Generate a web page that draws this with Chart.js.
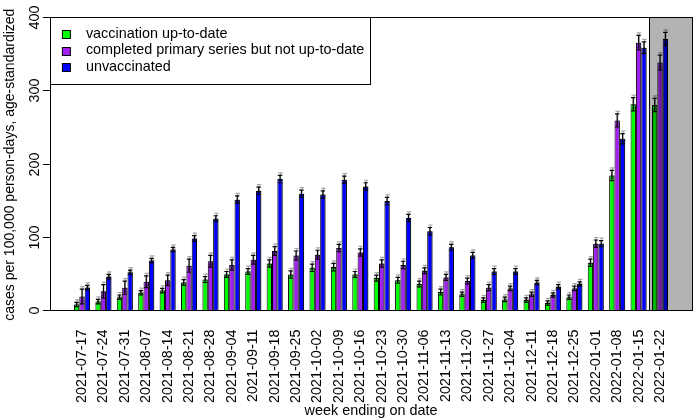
<!DOCTYPE html>
<html>
<head>
<meta charset="utf-8">
<script src="https://cdn.jsdelivr.net/npm/chart.js@4/dist/chart.umd.min.js"></script>
<style>
  body { margin: 0; background: #fff; }
</style>
</head>
<body>
<canvas id="myChart" width="700" height="420"></canvas>
<script>
// weeks (ending on date)
let weeks = [
    '2021-07-17', '2021-07-24', '2021-07-31', '2021-08-07', '2021-08-14',
    '2021-08-21', '2021-08-28', '2021-09-04', '2021-09-11', '2021-09-18',
    '2021-09-25', '2021-10-02', '2021-10-09', '2021-10-16', '2021-10-23',
    '2021-10-30', '2021-11-06', '2021-11-13', '2021-11-20', '2021-11-27',
    '2021-12-04', '2021-12-11', '2021-12-18', '2021-12-25', '2022-01-01',
    '2022-01-08', '2022-01-15', '2022-01-22'
];

// cases per 100,000 person-days
let upToDate = [8, 12, 18, 24, 27, 38, 42, 49, 53, 64, 49, 58, 59, 49, 44,
    41, 36, 25, 22, 14, 15, 14, 10, 18, 65, 184, 281, 280];
let primaryOnly = [19, 26, 31, 39, 41, 61, 67, 62, 69, 81, 75, 76, 85, 79, 64,
    62, 54, 45, 40, 31, 30, 22, 21, 30, 91, 259, 365, 338];
let unvaccinated = [31, 46, 52, 68, 83, 98, 125, 151, 163, 179, 159, 158, 178, 169, 149,
    126, 108, 86, 75, 53, 53, 38, 32, 36, 91, 234, 358, 370];

// error bar half-widths
let upToDateErr = [3, 3, 3, 3, 3, 4, 4, 4, 4, 5, 5, 5, 5, 4, 4,
    4, 4, 4, 3, 3, 3, 3, 3, 3, 5, 7, 9, 9];
let primaryOnlyErr = [10, 9, 9, 8, 7, 9, 8, 7, 6, 6, 6, 6, 5, 5, 5,
    5, 4, 4, 4, 4, 3, 3, 3, 3, 5, 9, 10, 10];
let unvaccinatedErr = [3, 3, 3, 3, 3, 4, 4, 5, 5, 5, 5, 5, 5, 5, 5,
    5, 5, 4, 4, 4, 4, 3, 3, 3, 4, 7, 8, 9];

let yTicks = [0, 100, 200, 300, 400];
let shadedWeek = '2022-01-22';

let fontFamily = '"Liberation Sans", Arial, sans-serif';
let fontSize = 14.4;

let errors = [upToDateErr, primaryOnlyErr, unvaccinatedErr];

let extras = {
    id: 'extras',
    beforeDatasetsDraw(chart) {
        let ctx = chart.ctx;
        ctx.save();
        // soft drop shadow behind the bars
        ctx.shadowColor = 'rgba(0,0,0,0.35)';
        ctx.shadowBlur = 1;
        ctx.shadowOffsetX = 1.5;
        ctx.shadowOffsetY = -1;
    },
    afterDatasetsDraw(chart) {
        let ctx = chart.ctx;
        ctx.restore();
        let x = chart.scales.x;
        let y = chart.scales.y;
        let area = chart.chartArea;
        let catW = x.getPixelForValue(1) - x.getPixelForValue(0);
        let left = area.left - catW;
        let right = area.right + catW;

        // error bars
        ctx.save();
        ctx.lineWidth = 1.2;
        chart.data.datasets.forEach((ds, i) => {
            let meta = chart.getDatasetMeta(i);
            meta.data.forEach((bar, j) => {
                let v = ds.data[j];
                let e = errors[i][j];
                let top = y.getPixelForValue(v + e);
                let bot = y.getPixelForValue(v - e);
                let cx = bar.x;
                let hw = 2.2;
                [['rgba(0,0,0,0.35)', 0.5, -2.5], ['#000', 0, 0]].forEach(([col, dx, dy]) => {
                    ctx.strokeStyle = col;
                    ctx.beginPath();
                    ctx.moveTo(cx + dx, top + dy);
                    ctx.lineTo(cx + dx, bot + dy);
                    ctx.moveTo(cx + dx - hw, top + dy);
                    ctx.lineTo(cx + dx + hw, top + dy);
                    ctx.moveTo(cx + dx - hw, bot + dy);
                    ctx.lineTo(cx + dx + hw, bot + dy);
                    ctx.stroke();
                });
            });
        });
        ctx.restore();

        // shaded (incomplete) week
        let k = weeks.indexOf(shadedWeek);
        let sx = (x.getPixelForValue(k - 1) + x.getPixelForValue(k)) / 2;
        ctx.save();
        ctx.globalCompositeOperation = 'multiply';
        ctx.fillStyle = '#b3b3b3';
        ctx.fillRect(sx, area.top, right - sx, area.bottom - area.top);
        ctx.restore();
        ctx.save();
        ctx.strokeStyle = '#000';
        ctx.lineWidth = 1;
        ctx.beginPath();
        ctx.moveTo(Math.round(sx) + 0.5, area.top);
        ctx.lineTo(Math.round(sx) + 0.5, area.bottom);
        ctx.stroke();

        // plot frame
        ctx.strokeRect(Math.round(left) + 0.5, Math.round(area.top) + 0.5,
            Math.round(right - left), Math.round(area.bottom - area.top));

        // y axis ticks and rotated labels
        ctx.fillStyle = '#000';
        ctx.font = fontSize + 'px ' + fontFamily;
        ctx.textAlign = 'center';
        ctx.textBaseline = 'middle';
        yTicks.forEach(t => {
            let py = Math.round(y.getPixelForValue(t)) + 0.5;
            ctx.beginPath();
            ctx.moveTo(left - 7, py);
            ctx.lineTo(left, py);
            ctx.stroke();
            ctx.save();
            ctx.translate(left - 15, py);
            ctx.rotate(-Math.PI / 2);
            ctx.fillText(String(t), 0, 0);
            ctx.restore();
        });
        ctx.save();
        ctx.font = '14px ' + fontFamily;
        ctx.translate(left - 40, (area.top + area.bottom) / 2 + 1);
        ctx.rotate(-Math.PI / 2);
        ctx.fillText('cases per 100,000 person-days, age-standardized', 0, 0);
        ctx.restore();

        // x axis title
        ctx.fillText('week ending on date', (left + right) / 2, area.bottom + 101);

        // legend
        let items = chart.data.datasets;
        let textX = left + 36;
        let maxW = Math.max(...items.map(ds => ctx.measureText(ds.label).width));
        let boxR = textX + maxW + 6;
        let boxB = area.top + 67;
        ctx.fillStyle = '#fff';
        ctx.fillRect(left + 0.5, area.top + 0.5, boxR - left, boxB - area.top);
        ctx.strokeRect(Math.round(left) + 0.5, Math.round(area.top) + 0.5,
            Math.round(boxR - left), Math.round(boxB - area.top));
        ctx.textAlign = 'left';
        items.forEach((ds, i) => {
            let cy = area.top + 17 + i * 16.5;
            ctx.fillStyle = ds.backgroundColor;
            ctx.fillRect(left + 12.5, Math.round(cy - 4) + 0.5, 8, 8);
            ctx.strokeRect(left + 12.5, Math.round(cy - 4) + 0.5, 8, 8);
            ctx.fillStyle = '#000';
            ctx.fillText(ds.label, textX, cy);
        });
        ctx.restore();
    }
};

let ctx = document.getElementById('myChart').getContext('2d');

let chart = new Chart(ctx, {
    type: 'bar',
    data: {
        labels: weeks,
        datasets: [{
            label: 'vaccination up-to-date',
            data: upToDate,
            backgroundColor: '#00ff00'
        }, {
            label: 'completed primary series but not up-to-date',
            data: primaryOnly,
            backgroundColor: '#a020f0'
        }, {
            label: 'unvaccinated',
            data: unvaccinated,
            backgroundColor: '#0000ff'
        }]
    },
    options: {
        responsive: false,
        animation: false,
        layout: {
            padding: { left: 71.3, right: 29.3, top: 17, bottom: 6 }
        },
        datasets: {
            bar: {
                borderColor: '#000',
                borderWidth: 1,
                barPercentage: 1,
                categoryPercentage: 0.75
            }
        },
        scales: {
            x: {
                grid: { display: false },
                border: { display: false },
                ticks: {
                    color: '#000',
                    font: { family: fontFamily, size: fontSize },
                    minRotation: 90,
                    maxRotation: 90,
                    autoSkip: false,
                    padding: 11
                }
            },
            y: {
                display: false,
                min: 0,
                max: 400
            }
        },
        plugins: {
            legend: { display: false },
            tooltip: { enabled: false }
        }
    },
    plugins: [extras]
});
</script>
</body>
</html>
